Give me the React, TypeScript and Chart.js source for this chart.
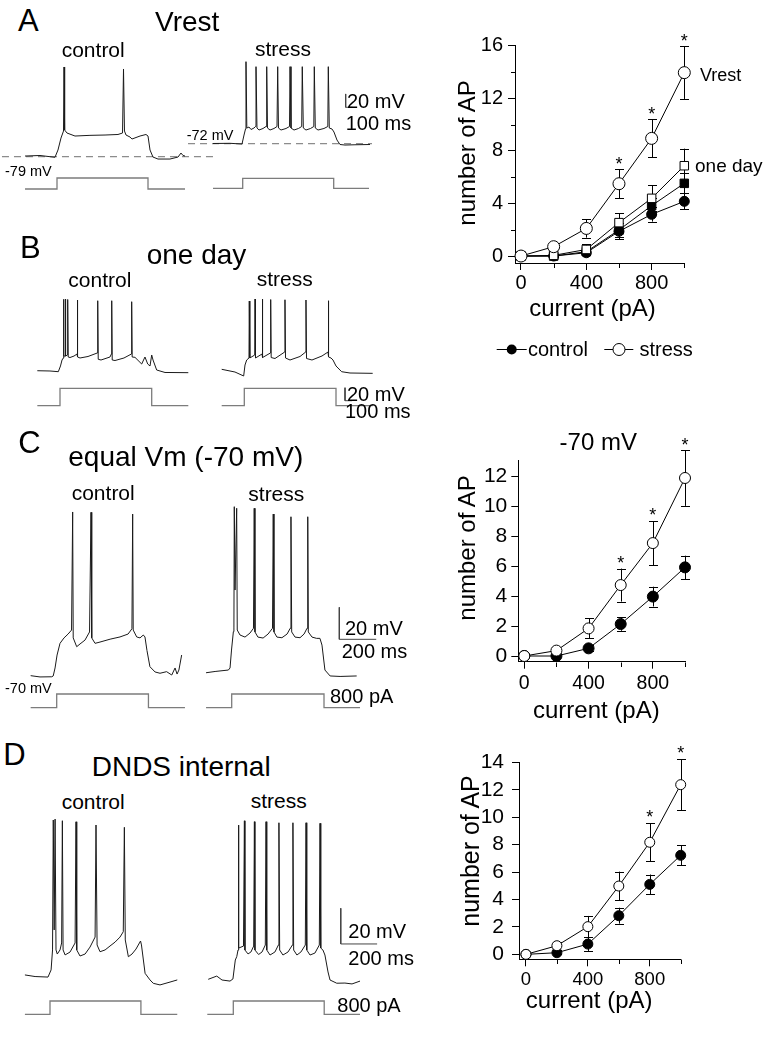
import React, { useEffect, useRef } from 'react';
import { Chart, registerables } from 'chart.js';
Chart.register(...registerables);

const FONT = '"Liberation Sans", Arial, Helvetica, sans-serif';

// ---------------- dose–response data (number of AP vs injected current) ----------------
const currents = [0, 200, 400, 600, 800, 1000];
const currentTicks = [0, 200, 400, 600, 800, 1000];
const currentTickLabels = [0, 400, 800];

// Panel A (Vrest) and B (one day) summary
const vrestControl = [0, 0, 0.25, 1.88, 3.17, 4.16];
const vrestControlErr = [0, 0.05, 0.15, 0.6, 0.55, 0.6];
const vrestStress = [0, 0.71, 2.1, 5.5, 8.95, 13.95];
const vrestStressErr = [0, 0.15, 0.7, 1.1, 1.45, 2.0];
const oneDayControl = [0, 0, 0.33, 1.98, 3.83, 5.53];
const oneDayControlErr = [0, 0.05, 0.2, 0.55, 0.6, 0.75];
const oneDayStress = [0, 0.05, 0.5, 2.54, 4.39, 6.87];
const oneDayStressErr = [0, 0.1, 0.4, 0.7, 1.0, 1.3];
const sigA = [600, 800, 1000];
const yTicksA = [0, 2, 4, 6, 8, 10, 12, 14, 16];
const yLabelsA = [0, 4, 8, 12, 16];

// Panel C (-70 mV)
const m70Control = [0, 0, 0.51, 2.13, 3.96, 5.91];
const m70ControlErr = [0, 0.05, 0.2, 0.45, 0.66, 0.78];
const m70Stress = [0, 0.36, 1.84, 4.73, 7.53, 11.87];
const m70StressErr = [0, 0.26, 0.67, 1.1, 1.47, 1.86];
const sigC = [600, 800, 1000];
const yTicksC = [0, 2, 4, 6, 8, 10, 12];

// Panel D (DNDS internal)
const dndsControl = [0, 0.12, 0.75, 2.82, 5.1, 7.22];
const dndsControlErr = [0, 0.1, 0.5, 0.58, 0.72, 0.72];
const dndsStress = [0, 0.63, 2.02, 4.98, 8.17, 12.37];
const dndsStressErr = [0, 0.3, 0.78, 1.05, 1.4, 1.87];
const sigD = [800, 1000];
const yTicksD = [0, 2, 4, 6, 8, 10, 12, 14];

// ---------------- example traces: [time (ms from step onset), membrane potential (mV)] ----------------
const aControlTrace = [
  [-457, -78], [-243, -77.2], [-29, -79.9], [14, -69], [57, -51], [93, -40.5], [100, 55.5], [109, -39],
  [143, -43.5], [257, -48], [471, -47], [686, -46.5], [871, -45.7], [936, -43.5], [950, 52.5], [964, -40.5],
  [986, -46.5], [1043, -49.5], [1071, -52.5], [1186, -48], [1271, -45.7], [1300, -48], [1329, -69],
  [1371, -79.5], [1443, -82.5], [1614, -82.5], [1729, -79.5], [1771, -73.5], [1800, -77.2], [1829, -78],
];
const aStressTrace = [
  [-424, -71.7], [-181, -71.4], [-10, -72.5], [19, -59], [40, -50], [47, 51], [59, -48.5], [90, -47],
  [119, -50.7], [161, -48.5], [183, -46.2], [190, 43.5], [204, -48.5], [233, -51.5], [290, -49.2],
  [333, -46.2], [343, 43.5], [354, -48.5], [390, -51.5], [447, -49.2], [490, -46.2], [500, 43.5],
  [511, -48.5], [547, -51.5], [619, -49.2], [669, -46.2], [676, 43.5], [690, -48.5], [733, -51.5],
  [797, -49.2], [843, -46.2], [851, 43.5], [866, -48.5], [904, -51.5], [969, -49.2], [1016, -46.2],
  [1023, 43.5], [1037, -48.5], [1076, -51.5], [1161, -49.2], [1216, -46.2], [1223, 43.5], [1237, -48.5],
  [1276, -50], [1304, -54.5], [1347, -66.5], [1390, -73.2], [1461, -74], [1604, -73.6], [1819, -73.2],
];
const bControlTrace = [
  [-324, -73.5], [-143, -73.9], [-24, -75], [7, -66.2], [29, -57], [47, -54], [50, 36.4], [57, -50.9],
  [73, -50.9], [76, 36.8], [83, -50.9], [106, -49.3], [110, 36.1], [117, -52.4], [143, -53.2], [200, -50.9],
  [243, -47.8], [247, 35.3], [254, -52.4], [286, -53.9], [400, -51.6], [533, -46.2], [539, 34.2],
  [546, -55.9], [586, -57], [714, -52.4], [734, -47.8], [739, 34.2], [746, -57], [786, -57.8], [914, -53.9],
  [1020, -47.8], [1024, 32.7], [1031, -52.4], [1071, -52.9], [1167, -63.2], [1214, -52.4], [1253, -63.2],
  [1286, -66.2], [1310, -49.3], [1329, -57], [1381, -72.4], [1500, -76.2], [1833, -76.5],
];
const bStressTrace = [
  [-323, -75], [-133, -79.2], [-9, -85.3], [10, -68.4], [34, -60.7], [67, -57.6], [71, 30], [79, -57.6],
  [149, -53], [153, 33.1], [160, -57.6], [253, -51.5], [257, 33.1], [264, -56.9], [373, -49.9], [377, 32.3],
  [384, -56.9], [439, -58.4], [577, -48.4], [581, 32], [589, -57.6], [653, -60.7], [796, -55.3],
  [877, -48.4], [881, 31.6], [889, -58.4], [967, -60.7], [1110, -54.5], [1196, -48.4], [1200, 30.5],
  [1207, -56.1], [1239, -57.6], [1267, -60.7], [1310, -69.9], [1391, -78.7], [1510, -80.7], [1834, -81.2],
];
const cControlTrace = [
  [-142, -69.6], [-91, -70.4], [-27, -70.3], [-19, -69.8], [-9, -64.8], [2, -56.7], [18, -49.4], [40, -46],
  [62, -43.6], [81, -41.1], [87, 32.7], [90, -46], [109, -51.5], [127, -49.8], [154, -47.4], [179, -42.3],
  [187, 32.5], [191, -46], [209, -49.4], [236, -48.6], [291, -46.8], [345, -45.4], [389, -43.6],
  [410, -40.3], [414, 31.4], [417, -41.1], [436, -45.4], [454, -46], [472, -44.2], [481, -45.4],
  [492, -53.9], [508, -64], [536, -67.3], [563, -68.1], [599, -67.1], [627, -69.2], [645, -64.8],
  [656, -68.6], [666, -66.1], [681, -56.7],
];
const cStressTrace = [
  [-139, -71.1], [-90, -70.3], [-18, -69.4], [-9, -68.1], [-1, -56.9], [9, -45.4], [12, -43.1], [14, 32.7],
  [18, -19.4], [27, 31.7], [30, -44.4], [45, -47.5], [72, -48.8], [99, -46.3], [118, -43.3], [122, 31.7],
  [126, -45.6], [142, -48.8], [170, -49.4], [197, -46.9], [221, -43.3], [225, 28.1], [229, -45.6],
  [245, -48.8], [272, -49.2], [300, -46.9], [317, -43.3], [321, 26.4], [325, -45.6], [343, -48.8],
  [370, -49.2], [392, -46.9], [408, -43.3], [412, 26.4], [415, -45.6], [435, -48.8], [460, -49.6],
  [478, -49.6], [489, -53.8], [505, -69.4], [533, -73.1], [587, -73.4], [677, -73.1],
];
const dControlTrace = [
  [-138, -69.4], [-82, -70.3], [-11, -70.6], [6, -66.6], [14, -55.4], [18, 17.4], [23, -44.2], [28, 17.9],
  [33, -55.4], [40, -57.7], [55, -55.4], [64, -51.5], [68, 17], [72, -55.4], [83, -58.2], [110, -56.6],
  [138, -51.5], [143, 16.4], [147, -55.4], [165, -58.8], [193, -57.7], [220, -53.8], [248, -48.2],
  [253, 14.6], [259, -52.6], [275, -56.4], [303, -55.4], [330, -53.2], [358, -51], [385, -48.2],
  [403, -45.2], [409, 13.3], [414, -49.8], [431, -59.2], [451, -57.7], [473, -54.9], [498, -50.4],
  [503, -52.6], [523, -68.5], [550, -72.2], [568, -74.1], [605, -75], [660, -73.4], [700, -72.2],
];
const dStressTrace = [
  [-138, -70], [-91, -68.2], [-62, -70.4], [-18, -71], [-2, -69.8], [11, -59.2], [19, -57.3], [26, -53.6],
  [28, 16.4], [31, -52.5], [56, -51.4], [61, 18.8], [64, -53.6], [81, -55.8], [97, -54.7], [112, -51.4],
  [116, 18.3], [119, -53.6], [139, -56.1], [158, -54.7], [176, -50.8], [180, 18.3], [184, -53.6],
  [202, -56.4], [229, -54.7], [248, -50.8], [251, 17.7], [255, -53.6], [273, -56.4], [301, -54.7],
  [325, -50.8], [328, 17.7], [332, -53.6], [350, -56.4], [372, -54.7], [396, -50.8], [400, 17.7],
  [404, -53.6], [422, -56.4], [449, -55.3], [473, -50.8], [477, 17.4], [481, -52.5], [493, -53.6],
  [504, -56.4], [521, -65.9], [532, -70.4], [569, -72.2], [614, -72.1], [653, -72.6], [697, -71],
];

// injected current steps: [time (ms), current (pA)]
const aControlStep = [[-457, 0], [0, 0], [0, 800], [1300, 800], [1300, 0], [1829, 0]];
const aStressStep = [[-424, 0], [0, 0], [0, 800], [1300, 800], [1300, 0], [1804, 0]];
const bControlStep = [[-324, 0], [0, 0], [0, 800], [1310, 800], [1310, 0], [1833, 0]];
const bStressStep = [[-323, 0], [0, 0], [0, 800], [1310, 800], [1310, 0], [1834, 0]];
const cControlStep = [[-142, 0], [0, 0], [0, 800], [500, 800], [500, 0], [699, 0]];
const cStressStep = [[-139, 0], [0, 0], [0, 800], [500, 800], [500, 0], [695, 0]];
const dControlStep = [[-138, 0], [0, 0], [0, 800], [500, 800], [500, 0], [700, 0]];
const dStressStep = [[-143, 0], [0, 0], [0, 800], [500, 800], [500, 0], [697, 0]];

// resting-potential reference lines (mV) and calibration bars
const aControlRest = [[-786, -79], [2229, -79]];
const aStressRest = [[-781, -72], [1847, -72]];
const aScaleBar = [[1471, 2.6], [1471, -17.4], [1571, -17.4]];
const bScaleBar = [[1439, -103.3], [1439, -123.3], [1539, -123.3]];
const cScaleBar = [[583, -30.2], [583, -50.2], [783, -50.2]];
const dScaleBar = [[591, -30.2], [591, -50.2], [791, -50.2]];

// ---------------- components ----------------
type Box = { x: number; y: number; w: number; h: number };
type Cal = { onsetPx: number; kx: number; vRef: number; vRefPx: number; kv: number; iBasePx: number; kI: number };

const toXY = (a: number[][]) => a.map(([x, y]) => ({ x, y }));

function TraceChart({ box, cal, trace, step, rest, bar }: { box: Box; cal: Cal; trace: number[][]; step: number[][]; rest?: number[][]; bar?: number[][] }) {
  const ref = useRef<HTMLCanvasElement>(null);
  useEffect(() => {
    const xMin = (box.x - cal.onsetPx) / cal.kx;
    const xMax = (box.x + box.w - cal.onsetPx) / cal.kx;
    const yMax = cal.vRef + (cal.vRefPx - box.y) / cal.kv;
    const yMin = cal.vRef - (box.y + box.h - cal.vRefPx) / cal.kv;
    const iMax = (cal.iBasePx - box.y) / cal.kI;
    const iMin = -(box.y + box.h - cal.iBasePx) / cal.kI;
    const ds: any[] = [
      { data: toXY(trace), yAxisID: 'y', borderColor: '#1a1a1a', borderWidth: 1 },
      { data: toXY(step), yAxisID: 'yI', borderColor: '#7c7c7c', borderWidth: 1.3 },
    ];
    if (rest) ds.push({ data: toXY(rest), yAxisID: 'y', borderColor: '#8c8c8c', borderWidth: 1.3, borderDash: [7, 5] });
    if (bar) ds.push({ data: toXY(bar), yAxisID: 'y', borderColor: '#444', borderWidth: 1 });
    const chart = new Chart(ref.current as HTMLCanvasElement, {
      type: 'line',
      data: { datasets: ds.map((d) => ({ pointRadius: 0, tension: 0, fill: false, clip: false, ...d })) },
      options: {
        responsive: false,
        animation: false,
        events: [],
        layout: { padding: 0 },
        plugins: { legend: { display: false }, tooltip: { enabled: false } },
        scales: {
          x: { type: 'linear', display: false, min: xMin, max: xMax },
          y: { type: 'linear', display: false, min: yMin, max: yMax },
          yI: { type: 'linear', display: false, min: iMin, max: iMax },
        },
      } as any,
    });
    return () => chart.destroy();
  }, []);
  return (
    <canvas ref={ref} width={box.w} height={box.h}
      style={{ position: 'absolute', left: box.x, top: box.y, width: box.w, height: box.h }} />
  );
}

type Series = { values: number[]; errors: number[]; shape: 'circle' | 'rect'; filled: boolean; radius: number; order: number };

function DoseChart({ box, area, xMin, yMin, yMax, yTicks, yLabels, series, sigSeries, sigAt, yFont, xFont, yPad, xPad, legend }: any) {
  const ref = useRef<HTMLCanvasElement>(null);
  useEffect(() => {
    const YW = 40, XH = 30, MINOR = 4.5;
    const padding = {
      left: area.left - box.x - YW,
      top: area.top - box.y,
      right: box.x + box.w - area.right,
      bottom: box.y + box.h - area.bottom - XH,
    };
    const isYMajor = (v: number) => (yLabels as number[]).includes(v);
    const isXMajor = (v: number) => currentTickLabels.includes(v);
    const errPlugin = {
      id: 'errbars',
      beforeDatasetsDraw(chart: any) {
        const { ctx, scales } = chart;
        const xs = scales.x, ys = scales.y;
        ctx.save();
        ctx.strokeStyle = '#000';
        ctx.lineWidth = 1;
        // minor (unlabelled) tick marks, shorter than the labelled ones
        ctx.beginPath();
        const ax = Math.round(chart.chartArea.left) + 0.5;
        const ay = Math.round(chart.chartArea.bottom) + 0.5;
        (yTicks as number[]).filter((v) => !isYMajor(v)).forEach((v) => {
          const py = Math.round(ys.getPixelForValue(v)) + 0.5;
          ctx.moveTo(ax, py); ctx.lineTo(ax - MINOR, py);
        });
        currentTicks.filter((v) => !isXMajor(v)).forEach((v) => {
          const px = Math.round(xs.getPixelForValue(v)) + 0.5;
          ctx.moveTo(px, ay); ctx.lineTo(px, ay + MINOR);
        });
        ctx.stroke();
        (series as Series[]).forEach((s) => {
          s.values.forEach((m, i) => {
            const e = s.errors[i];
            if (!e) return;
            const px = Math.round(xs.getPixelForValue(currents[i])) + 0.5;
            const yt = ys.getPixelForValue(m + e);
            const yb = ys.getPixelForValue(m - e);
            ctx.beginPath();
            ctx.moveTo(px, yt); ctx.lineTo(px, yb);
            ctx.moveTo(px - 4.5, Math.round(yt) + 0.5); ctx.lineTo(px + 4.5, Math.round(yt) + 0.5);
            ctx.moveTo(px - 4.5, Math.round(yb) + 0.5); ctx.lineTo(px + 4.5, Math.round(yb) + 0.5);
            ctx.stroke();
          });
        });
        ctx.restore();
      },
      afterDatasetsDraw(chart: any) {
        const { ctx, scales } = chart;
        const xs = scales.x, ys = scales.y;
        ctx.save();
        ctx.fillStyle = '#000';
        ctx.textAlign = 'center';
        ctx.textBaseline = 'alphabetic';
        ctx.font = `18px ${FONT}`;
        (sigAt as number[]).forEach((c) => {
          const i = currents.indexOf(c);
          const top = ys.getPixelForValue(sigSeries.values[i] + sigSeries.errors[i]);
          ctx.fillText('*', xs.getPixelForValue(c), top - 10 + 10.4);
        });
        if (legend) {
          const ox = box.x, oy = box.y;
          const ly = 349.5 - oy;
          ctx.strokeStyle = '#000';
          ctx.lineWidth = 1;
          ctx.beginPath();
          ctx.moveTo(496.7 - ox, ly); ctx.lineTo(526.7 - ox, ly);
          ctx.moveTo(604.3 - ox, ly); ctx.lineTo(633.3 - ox, ly);
          ctx.stroke();
          ctx.beginPath(); ctx.arc(511.7 - ox, ly, 5, 0, Math.PI * 2); ctx.fillStyle = '#000'; ctx.fill();
          ctx.beginPath(); ctx.arc(619 - ox, ly, 6, 0, Math.PI * 2); ctx.fillStyle = '#fff'; ctx.fill(); ctx.stroke();
          ctx.fillStyle = '#000';
          ctx.textAlign = 'left';
          ctx.font = `20px ${FONT}`;
          ctx.fillText('control', 528 - ox, 355.5 - oy);
          ctx.fillText('stress', 639.5 - ox, 355.5 - oy);
        }
        ctx.restore();
      },
    };
    const datasets = (series as Series[]).map((s) => ({
      data: s.values.map((v, i) => ({ x: currents[i], y: v })),
      borderColor: '#000',
      borderWidth: 1,
      tension: 0,
      pointStyle: s.shape,
      pointRadius: s.radius,
      pointBackgroundColor: s.filled ? '#000' : '#fff',
      pointBorderColor: '#000',
      pointBorderWidth: 1,
      order: s.order,
      clip: false,
    }));
    const gridFor = (isMajor: (v: number) => boolean) => ({
      display: true, drawOnChartArea: false, drawTicks: true, tickLength: 7, color: '#000', tickWidth: 1,
      tickColor: (c: any) => (c.tick && isMajor(c.tick.value) ? '#000' : 'rgba(0,0,0,0)'),
    });
    const chart = new Chart(ref.current as HTMLCanvasElement, {
      type: 'line',
      data: { datasets },
      options: {
        responsive: false,
        animation: false,
        events: [],
        layout: { padding },
        plugins: { legend: { display: false }, tooltip: { enabled: false } },
        scales: {
          x: {
            type: 'linear', min: xMin, max: 1000,
            afterBuildTicks: (s: any) => { s.ticks = currentTicks.map((v) => ({ value: v })); },
            afterFit: (s: any) => { s.height = XH; },
            ticks: {
              autoSkip: false, maxRotation: 0, color: '#000', padding: xPad,
              font: { family: FONT, size: xFont },
              callback: (v: number) => (isXMajor(v) ? String(v) : ''),
            },
            grid: gridFor(isXMajor), border: { display: true, color: '#000', width: 1 },
          },
          y: {
            type: 'linear', min: yMin, max: yMax,
            afterBuildTicks: (s: any) => { s.ticks = (yTicks as number[]).map((v) => ({ value: v })); },
            afterFit: (s: any) => { s.width = YW; },
            ticks: {
              autoSkip: false, color: '#000', padding: yPad,
              font: { family: FONT, size: yFont },
              callback: (v: number) => (isYMajor(v) ? String(v) : ''),
            },
            grid: gridFor(isYMajor), border: { display: true, color: '#000', width: 1 },
          },
        },
      } as any,
      plugins: [errPlugin],
    });
    return () => chart.destroy();
  }, []);
  return (
    <canvas ref={ref} width={box.w} height={box.h}
      style={{ position: 'absolute', left: box.x, top: box.y, width: box.w, height: box.h }} />
  );
}

function T({ x, b, s, children, center }: { x: number; b: number; s: number; children: any; center?: boolean }) {
  return (
    <div style={{
      position: 'absolute', left: x, top: b - 0.8465 * s, fontSize: s, lineHeight: `${s}px`,
      fontFamily: FONT, color: '#000', whiteSpace: 'nowrap',
      transform: center ? 'translateX(-50%)' : undefined,
    }}>{children}</div>
  );
}

function VT({ cx, cy, s, children }: { cx: number; cy: number; s: number; children: any }) {
  return (
    <div style={{
      position: 'absolute', left: cx, top: cy, fontSize: s, lineHeight: `${s}px`, fontFamily: FONT,
      color: '#000', whiteSpace: 'nowrap', transform: 'translate(-50%,-50%) rotate(-90deg)',
    }}>{children}</div>
  );
}

export default function App() {
  const A: Series[] = [
    { values: vrestStress, errors: vrestStressErr, shape: 'circle', filled: false, radius: 6, order: 1 },
    { values: oneDayStress, errors: oneDayStressErr, shape: 'rect', filled: false, radius: 6, order: 2 },
    { values: oneDayControl, errors: oneDayControlErr, shape: 'rect', filled: true, radius: 6, order: 3 },
    { values: vrestControl, errors: vrestControlErr, shape: 'circle', filled: true, radius: 5, order: 4 },
  ];
  const C: Series[] = [
    { values: m70Stress, errors: m70StressErr, shape: 'circle', filled: false, radius: 5.5, order: 1 },
    { values: m70Control, errors: m70ControlErr, shape: 'circle', filled: true, radius: 5.5, order: 2 },
  ];
  const D: Series[] = [
    { values: dndsStress, errors: dndsStressErr, shape: 'circle', filled: false, radius: 5, order: 1 },
    { values: dndsControl, errors: dndsControlErr, shape: 'circle', filled: true, radius: 5, order: 2 },
  ];
  return (
    <div style={{ position: 'absolute', left: 0, top: 0, width: 783, height: 1050, overflow: 'hidden', background: '#fff' }}>
      {/* ---- traces ---- */}
      <TraceChart box={{ x: 0, y: 55, w: 216, h: 140 }} trace={aControlTrace} step={aControlStep} rest={aControlRest}
        cal={{ onsetPx: 57, kx: 0.07, vRef: -79, vRefPx: 156.7, kv: 0.667, iBasePx: 189, kI: 11 / 800 }} />
      <TraceChart box={{ x: 185, y: 55, w: 195, h: 140 }} trace={aStressTrace} step={aStressStep} rest={aStressRest} bar={aScaleBar}
        cal={{ onsetPx: 242.7, kx: 0.07, vRef: -72, vRefPx: 143.7, kv: 0.667, iBasePx: 188.3, kI: 10 / 800 }} />
      <TraceChart box={{ x: 30, y: 290, w: 165, h: 125 }} trace={bControlTrace} step={bControlStep}
        cal={{ onsetPx: 60, kx: 0.07, vRef: -75, vRefPx: 371.7, kv: 0.65, iBasePx: 405.7, kI: 17.4 / 800 }} />
      <TraceChart box={{ x: 215, y: 290, w: 165, h: 125 }} trace={bStressTrace} step={bStressStep} bar={bScaleBar}
        cal={{ onsetPx: 244.3, kx: 0.07, vRef: -75, vRefPx: 369.3, kv: 0.65, iBasePx: 405.7, kI: 17.4 / 800 }} />
      <TraceChart box={{ x: 25, y: 500, w: 165, h: 215 }} trace={cControlTrace} step={cControlStep}
        cal={{ onsetPx: 56.7, kx: 1 / 5.45, vRef: -70, vRefPx: 676.3, kv: 1.6, iBasePx: 707.7, kI: 13.7 / 800 }} />
      <TraceChart box={{ x: 200, y: 500, w: 185, h: 215 }} trace={cStressTrace} step={cStressStep} bar={cScaleBar}
        cal={{ onsetPx: 231.7, kx: 1 / 5.417, vRef: -70, vRefPx: 671, kv: 1.6, iBasePx: 707.7, kI: 13.7 / 800 }} />
      <TraceChart box={{ x: 20, y: 815, w: 165, h: 205 }} trace={dControlTrace} step={dControlStep}
        cal={{ onsetPx: 50, kx: 1 / 5.5, vRef: -70, vRefPx: 976, kv: 1.785, iBasePx: 1014.3, kI: 13.3 / 800 }} />
      <TraceChart box={{ x: 200, y: 815, w: 185, h: 205 }} trace={dStressTrace} step={dStressStep} bar={dScaleBar}
        cal={{ onsetPx: 233.3, kx: 1 / 5.5, vRef: -70, vRefPx: 979.3, kv: 1.785, iBasePx: 1014.3, kI: 13.3 / 800 }} />

      {/* ---- summary charts ---- */}
      <DoseChart box={{ x: 440, y: 0, w: 343, h: 370 }} area={{ left: 515, right: 684.3, top: 45.7, bottom: 263 }}
        xMin={-36.7} yMin={-0.53} yMax={16} yTicks={yTicksA} yLabels={yLabelsA} series={A}
        sigSeries={{ values: vrestStress, errors: vrestStressErr }} sigAt={sigA} yFont={20} xFont={20} yPad={5} xPad={1} legend />
      <DoseChart box={{ x: 440, y: 370, w: 343, h: 350 }} area={{ left: 518.3, right: 685, top: 460, bottom: 661.7 }}
        xMin={-37.3} yMin={-0.38} yMax={13.07} yTicks={yTicksC} yLabels={yTicksC} series={C}
        sigSeries={{ values: m70Stress, errors: m70StressErr }} sigAt={sigC} yFont={21} xFont={19.5} yPad={4} xPad={3} />
      <DoseChart box={{ x: 440, y: 720, w: 343, h: 330 }} area={{ left: 519, right: 680.7, top: 762.3, bottom: 959.3 }}
        xMin={-45} yMin={-0.36} yMax={14} yTicks={yTicksD} yLabels={yTicksD} series={D}
        sigSeries={{ values: dndsStress, errors: dndsStressErr }} sigAt={sigD} yFont={21} xFont={18.5} yPad={8} xPad={3} />

      {/* ---- text ---- */}
      <T x={18} b={31.7} s={31}>A</T>
      <T x={155} b={31.7} s={28}>Vrest</T>
      <T x={61.7} b={56.7} s={21}>control</T>
      <T x={255} b={55.7} s={21}>stress</T>
      <T x={5} b={176.7} s={14.5}>-79 mV</T>
      <T x={186.7} b={140.7} s={14.5}>-72 mV</T>
      <T x={347} b={107.5} s={20}>20 mV</T>
      <T x={345.7} b={130} s={20}>100 ms</T>

      <T x={20} b={258.3} s={31}>B</T>
      <T x={146.7} b={265} s={28}>one day</T>
      <T x={68.3} b={286.7} s={21}>control</T>
      <T x={256.7} b={286} s={21}>stress</T>
      <T x={347} b={400.5} s={20}>20 mV</T>
      <T x={345} b={418.3} s={20}>100 ms</T>

      <T x={18.3} b={453.3} s={31}>C</T>
      <T x={68.3} b={466.7} s={28}>equal Vm (-70 mV)</T>
      <T x={71.7} b={500} s={21}>control</T>
      <T x={248.3} b={500.7} s={21}>stress</T>
      <T x={345} b={635} s={20}>20 mV</T>
      <T x={341.7} b={658.3} s={20}>200 ms</T>
      <T x={5} b={693.3} s={14.5}>-70 mV</T>
      <T x={330} b={703.3} s={20}>800 pA</T>

      <T x={3.3} b={765} s={31}>D</T>
      <T x={91.7} b={776.7} s={28}>DNDS internal</T>
      <T x={61.7} b={808.3} s={21}>control</T>
      <T x={250.7} b={807.7} s={21}>stress</T>
      <T x={348.3} b={938.3} s={20}>20 mV</T>
      <T x={348.3} b={965} s={20}>200 ms</T>
      <T x={337.3} b={1011.7} s={20}>800 pA</T>

      <VT cx={466.7} cy={153.3} s={24}>number of AP</VT>
      <VT cx={466.7} cy={548.3} s={24}>number of AP</VT>
      <VT cx={470} cy={850.8} s={25}>number of AP</VT>
      <T x={592.5} b={316.7} s={24} center>current (pA)</T>
      <T x={596.3} b={718.3} s={24} center>current (pA)</T>
      <T x={589.2} b={1008.3} s={24} center>current (pA)</T>
      <T x={700} b={81} s={18}>Vrest</T>
      <T x={695} b={171.7} s={19}>one day</T>
      <T x={598.3} b={450} s={24} center>-70 mV</T>
    </div>
  );
}
